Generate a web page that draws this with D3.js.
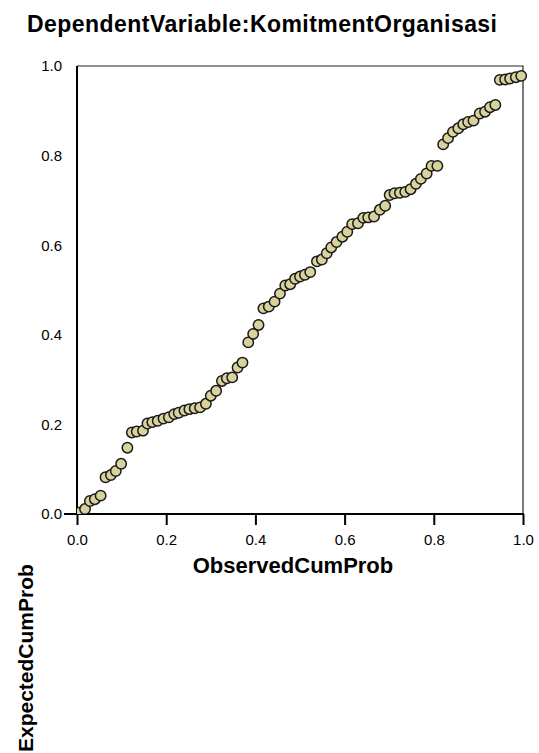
<!DOCTYPE html>
<html>
<head>
<meta charset="utf-8">
<script src="https://cdn.jsdelivr.net/npm/d3@7/dist/d3.min.js"></script>
<style>
  html, body { margin: 0; padding: 0; background: #fff; }
  svg { display: block; }
  text { font-family: "Liberation Sans", Arial, sans-serif; fill: #000; }
</style>
</head>
<body>
<svg id="chart" width="539" height="753"></svg>
<script>
const chartTitle = "DependentVariable:KomitmentOrganisasi";
const xTitle = "ObservedCumProb";
const yTitle = "ExpectedCumProb";
const tickValues = [0, 0.2, 0.4, 0.6, 0.8, 1.0];

const observed = [
  0.003, 0.018, 0.029, 0.040, 0.053, 0.064, 0.076, 0.087, 0.099, 0.113,
  0.123, 0.134, 0.148, 0.158, 0.169, 0.181, 0.194, 0.206, 0.218, 0.228,
  0.241, 0.252, 0.264, 0.276, 0.289, 0.300, 0.312, 0.325, 0.336, 0.348,
  0.360, 0.371, 0.384, 0.395, 0.407, 0.418, 0.430, 0.443, 0.455, 0.467,
  0.478, 0.489, 0.500, 0.511, 0.523, 0.538, 0.549, 0.560, 0.570, 0.582,
  0.595, 0.606, 0.617, 0.630, 0.642, 0.653, 0.666, 0.679, 0.691, 0.701,
  0.712, 0.724, 0.736, 0.748, 0.760, 0.771, 0.784, 0.795, 0.808, 0.821,
  0.832, 0.843, 0.855, 0.866, 0.877, 0.889, 0.903, 0.915, 0.926, 0.938,
  0.948, 0.960, 0.971, 0.984, 0.996
];
const expected = [
  0.003, 0.011, 0.029, 0.033, 0.041, 0.082, 0.087, 0.096, 0.112, 0.148,
  0.182, 0.184, 0.186, 0.202, 0.205, 0.208, 0.213, 0.216, 0.223, 0.226,
  0.231, 0.234, 0.236, 0.238, 0.246, 0.264, 0.275, 0.297, 0.303, 0.305,
  0.327, 0.338, 0.383, 0.402, 0.422, 0.459, 0.463, 0.474, 0.492, 0.510,
  0.513, 0.525, 0.530, 0.534, 0.540, 0.564, 0.568, 0.582, 0.595, 0.607,
  0.619, 0.630, 0.647, 0.649, 0.661, 0.662, 0.664, 0.679, 0.688, 0.712,
  0.716, 0.717, 0.719, 0.725, 0.737, 0.748, 0.760, 0.777, 0.777, 0.825,
  0.839, 0.853, 0.861, 0.870, 0.875, 0.878, 0.894, 0.898, 0.908, 0.913,
  0.969, 0.970, 0.972, 0.975, 0.978
];

const points = observed.map((v, i) => ({ x: v, y: expected[i] }));

const svg = d3.select("#chart");
const pLeft = 77, pRight = 523, pTop = 66, pBottom = 514;

const xScale = d3.scaleLinear().domain([0, 1]).range([pLeft, pRight]);
const yScale = d3.scaleLinear().domain([0, 1]).range([pBottom, pTop]);

// title
svg.append("text")
  .attr("x", 27).attr("y", 32)
  .attr("font-size", 23).attr("font-weight", "bold")
  .attr("textLength", 470).attr("lengthAdjust", "spacing")
  .text(chartTitle);

// frame (top + right)
svg.append("path")
  .attr("d", `M${pLeft},${pTop}H${pRight}V${pBottom}`)
  .attr("fill", "none").attr("stroke", "#222").attr("stroke-width", 1.2);

// x axis
const xAxis = d3.axisBottom(xScale).tickValues(tickValues)
  .tickSize(11).tickSizeOuter(0).tickFormat(d3.format(".1f"));
const gx = svg.append("g").attr("transform", `translate(0,${pBottom})`).call(xAxis);
gx.select(".domain").remove();
gx.selectAll(".tick line").attr("stroke", "#000").attr("stroke-width", 2);
gx.selectAll(".tick text").attr("font-size", 15).attr("dy", 0).attr("y", 31)
  .style("font-family", '"Liberation Sans", Arial, sans-serif');
svg.append("line").attr("x1", 64).attr("x2", pRight + 1).attr("y1", pBottom).attr("y2", pBottom)
  .attr("stroke", "#000").attr("stroke-width", 2);

// y axis (labels only, no ticks)
const yAxis = d3.axisLeft(yScale).tickValues(tickValues)
  .tickSize(0).tickPadding(15).tickSizeOuter(0).tickFormat(d3.format(".1f"));
const gy = svg.append("g").attr("transform", `translate(${pLeft},0)`).call(yAxis);
gy.select(".domain").remove();
gy.selectAll(".tick text").attr("font-size", 15)
  .style("font-family", '"Liberation Sans", Arial, sans-serif');
svg.append("line").attr("x1", pLeft).attr("x2", pLeft).attr("y1", pTop).attr("y2", pBottom)
  .attr("stroke", "#000").attr("stroke-width", 2);

// clip for points
svg.append("clipPath").attr("id", "plotclip")
  .append("rect").attr("x", pLeft).attr("y", pTop - 10)
  .attr("width", pRight - pLeft + 10).attr("height", pBottom - pTop + 10);

svg.append("g").attr("clip-path", "url(#plotclip)")
  .selectAll("circle").data(points).join("circle")
  .attr("cx", d => xScale(d.x)).attr("cy", d => yScale(d.y))
  .attr("r", 5.2)
  .attr("fill", "#d8d29c")
  .attr("stroke", "#1a1a1a").attr("stroke-width", 1.5);

// axis titles
svg.append("text")
  .attr("x", 293).attr("y", 573).attr("text-anchor", "middle")
  .attr("font-size", 22).attr("font-weight", "bold")
  .text(xTitle);

svg.append("text")
  .attr("transform", "translate(33,752) rotate(-90)")
  .attr("text-anchor", "start")
  .attr("font-size", 21).attr("font-weight", "bold")
  .text(yTitle);
</script>
</body>
</html>
